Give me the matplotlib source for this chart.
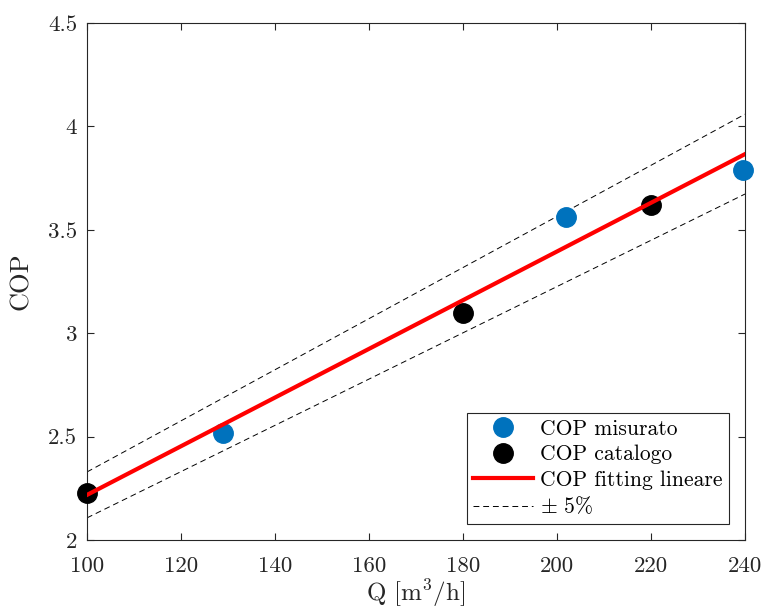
import matplotlib
matplotlib.use("Agg")
import matplotlib.pyplot as plt
from matplotlib.ticker import FixedLocator, FuncFormatter

plt.rcParams['font.family'] = 'serif'
plt.rcParams['font.serif'] = ['cmr10', 'DejaVu Serif']
plt.rcParams['mathtext.fontset'] = 'cm'
plt.rcParams['axes.unicode_minus'] = False

# Data
q_measured = [129, 202, 239.5]
cop_measured = [2.517, 3.563, 3.79]
q_catalog = [100, 180, 220]
cop_catalog = [2.226, 3.099, 3.620]
q_fit = [100, 240]
cop_fit = [2.218, 3.866]
cop_upper = [2.329, 4.059]
cop_lower = [2.107, 3.673]

x_ticks = [100, 120, 140, 160, 180, 200, 220, 240]
y_ticks = [2, 2.5, 3, 3.5, 4, 4.5]

fig = plt.figure(figsize=(7.68, 6.09), dpi=100)
ax = fig.add_axes([87/768, 1-540/609, (745-87)/768, (540-23)/609])

mblue = '#0072BD'
ax.plot(q_measured, cop_measured, 'o', color=mblue, markersize=14, label='COP misurato', zorder=3,
        clip_on=False)
ax.plot(q_catalog, cop_catalog, 'o', color='black', markersize=14, label='COP catalogo', zorder=3,
        clip_on=False)
ax.plot(q_fit, cop_fit, '-', color='#FF0000', linewidth=3, label='COP fitting lineare', zorder=4)
ax.plot(q_fit, cop_upper, '--', color='black', linewidth=0.7, dashes=(6, 4), label=r'$\pm$ 5%', zorder=2)
ax.plot(q_fit, cop_lower, '--', color='black', linewidth=0.7, dashes=(6, 4), zorder=2)

ax.set_xlim(100, 240)
ax.set_ylim(2, 4.5)
ax.xaxis.set_major_locator(FixedLocator(x_ticks))
ax.yaxis.set_major_locator(FixedLocator(y_ticks))
ax.xaxis.set_major_formatter(FuncFormatter(lambda v, p: f'{v:g}'))
ax.yaxis.set_major_formatter(FuncFormatter(lambda v, p: f'{v:g}'))

ax.tick_params(direction='in', top=True, right=True, length=5, width=0.8,
               labelsize=16.5, colors='#262626')
ax.tick_params(axis='x', pad=12)
ax.tick_params(axis='y', pad=7)
for s in ax.spines.values():
    s.set_color('#262626')
    s.set_linewidth(0.8)

ax.set_xlabel(r'Q [m$^3$/h]', fontsize=18, color='#262626', labelpad=0.5)
ax.set_ylabel('COP', fontsize=19, color='#262626', labelpad=11)

leg = ax.legend(loc='lower right', fontsize=15.5, frameon=True, fancybox=False,
                edgecolor='#262626', framealpha=1, borderaxespad=0.75,
                labelspacing=0.28, handlelength=2.8, handletextpad=0.3,
                borderpad=0.3)
leg.get_frame().set_linewidth(0.8)

fig.savefig('out.png', dpi=100)
